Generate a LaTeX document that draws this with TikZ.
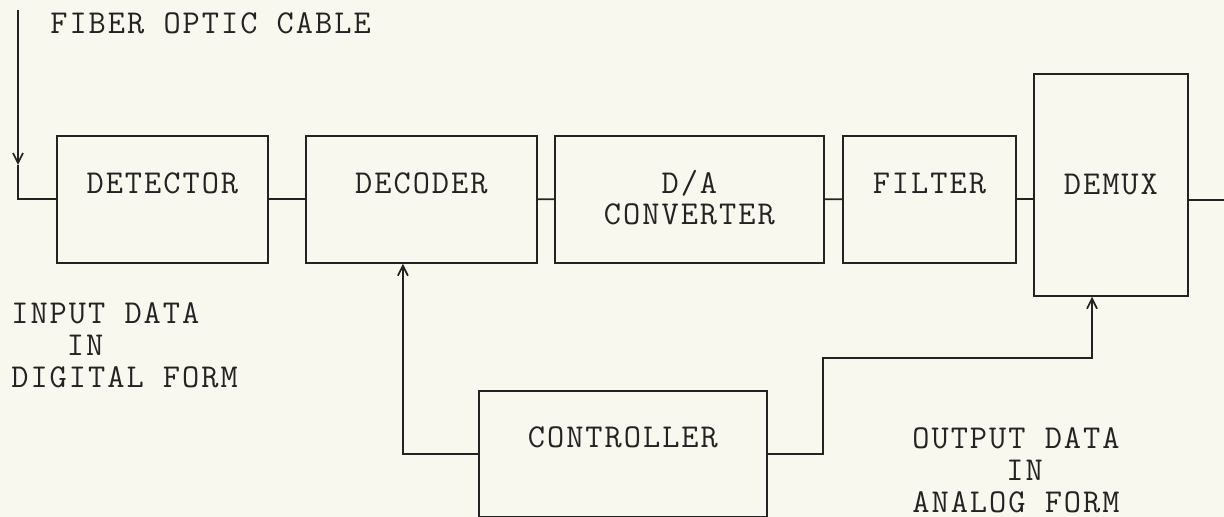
\documentclass[tikz,border=0pt]{standalone}
\usepackage{fontspec}
\usepackage{tikz}
\usetikzlibrary{arrows.meta,calc}
\newfontfamily\rxfont[LetterSpace=6]{Latin Modern Mono}
\definecolor{rxpaper}{RGB}{248,248,238}
\definecolor{rxink}{RGB}{35,35,35}
\tikzset{
  rx box/.style={
    draw=rxink,
    line width=1pt,
    inner sep=0pt,
    anchor=north west,
    align=center,
    text height=1.16cm,
    text depth=1.38cm,
    font=\rxfont\fontsize{19}{17.6}\selectfont,
    text=rxink,
  },
  rx text/.style={
    inner sep=0pt,
    align=left,
    font=\rxfont\fontsize{19}{18.3}\selectfont,
    text=rxink,
  },
  rx line/.style={
    line width=1pt,
    draw=rxink,
  },
  rx arrow/.style={
    -{Straight Barb[length=2.0mm,width=2.0mm]},
    line width=1pt,
    draw=rxink,
  },
}
\begin{document}
\begin{tikzpicture}[x=1cm,y=1cm]
  \fill[rxpaper] (0,0) rectangle (24.48,10.34);
  \useasboundingbox (0,0) rectangle (24.48,10.34);

  % receiver chain
  \node[rx box, minimum width=4.22cm] (det) at (1.12,7.64) {DETECTOR};
  \node[rx box, minimum width=4.62cm] (dec) at (6.10,7.64) {DECODER};
  \node[rx box, minimum width=5.38cm, text height=1.78cm, text depth=0.76cm] (dac) at (11.08,7.64) {D/A\\CONVERTER};
  \node[rx box, minimum width=3.46cm] (filt) at (16.84,7.64) {FILTER};
  \node[rx box, minimum width=3.08cm, text height=2.42cm, text depth=2.02cm] (demux) at (20.66,8.88) {DEMUX};
  \node[rx box, minimum width=5.76cm, text height=1.14cm] (ctrl) at (9.56,2.54) {CONTROLLER};

  % labels
  \node[rx text, anchor=base west] (fiber) at (1.00,9.66) {FIBER OPTIC CABLE};
  \node[rx text, anchor=north west] (indata) at (0.22,4.30)
    {INPUT DATA\\\hphantom{INP}IN\\DIGITAL FORM};
  \node[rx text, anchor=north west] (outdata) at (18.24,1.80)
    {OUTPUT DATA\\\hphantom{OUTPU}IN\\ANALOG FORM};

  \coordinate (fibtop) at (0.36,10.14);
  \coordinate (fibarr) at (0.36,7.04);
  \coordinate (out) at (24.48,6.34);
  \coordinate (ctrlbend) at (16.46,3.18);
  \coordinate (demuxin) at (21.84,3.18);

  \draw[rx arrow] (fibtop) -- (fibarr);
  \draw[rx line] (fibarr) -- (fibarr |- det.west) -- (det.west);
  \draw[rx line] (det.east) -- (dec.west);
  \draw[rx line] (dec.east) -- (dac.west);
  \draw[rx line] (dac.east) -- (filt.west);
  \draw[rx line] (filt.east) -- (filt.east -| demux.west);
  \draw[rx line] (out -| demux.east) -- (out);

  \draw[rx arrow] (ctrl.west) -| ($(dec.south)+(-0.37,0)$);
  \draw[rx arrow] (ctrl.east) -| (ctrlbend) -- (demuxin) -- (demuxin |- demux.south);
\end{tikzpicture}
\end{document}
